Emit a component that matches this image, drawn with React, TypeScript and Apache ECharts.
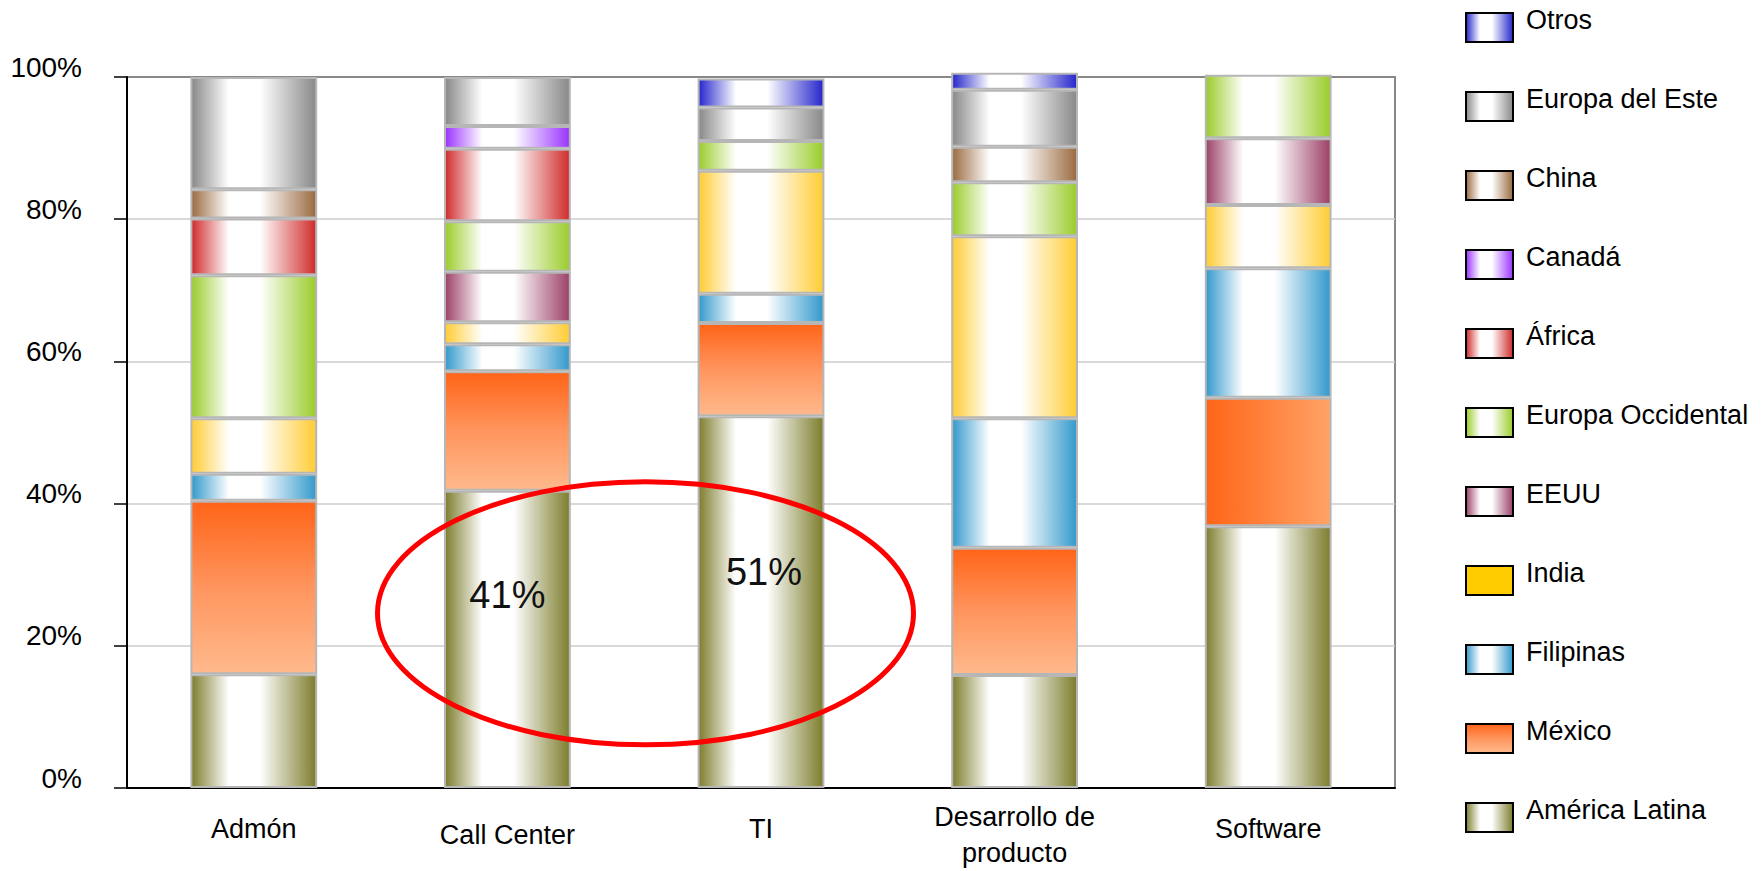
import React, { useEffect, useRef } from 'react';
import * as echarts from 'echarts';

// ---------- DATA ----------
const categories = ['Admón', 'Call Center', 'TI', 'Desarrollo de\nproducto', 'Software'];

const americaLatina = [16.0, 41.8, 52.3, 15.9, 36.8];
const mexico = [24.4, 16.8, 13.1, 17.9, 18.1];
const filipinas = [3.8, 3.8, 4.1, 18.2, 18.2];
const india = [7.8, 3.1, 17.3, 25.6, 8.9];
const eeuu = [null, 7.1, null, null, 9.4];
const europaOccidental = [20.1, 7.1, 4.2, 7.6, 8.9];
const africa = [8.0, 10.2, null, null, null];
const canada = [null, 3.2, null, null, null];
const china = [4.1, null, null, 5.0, null];
const europaEste = [15.8, 6.9, 4.7, 8.0, null];
const otros = [null, null, 4.1, 2.4, null];

const seriesNames = [
  'América Latina', 'México', 'Filipinas', 'India', 'EEUU', 'Europa Occidental',
  'África', 'Canadá', 'China', 'Europa del Este', 'Otros',
];
const seriesValues = [
  americaLatina, mexico, filipinas, india, eeuu, europaOccidental,
  africa, canada, china, europaEste, otros,
];

const yTickValues = [0, 20, 40, 60, 80, 100];

// annotation texts on América Latina bars
const annotationCategories = ['Call Center', 'TI'];
const annotationTexts = ['41%', '51%'];

// ---------- STYLES ----------
const FONT = '"Liberation Sans", Arial, sans-serif';
const edgeColors: Record<string, string> = {
  'América Latina': '#7D7D2D',
  'México': '#FF6418',
  'Filipinas': '#3399CC',
  'India': '#FFCC33',
  'EEUU': '#9B4068',
  'Europa Occidental': '#9ACC2A',
  'África': '#D02A2A',
  'Canadá': '#9933FF',
  'China': '#9A6A40',
  'Europa del Este': '#888888',
  'Otros': '#2525CC',
};

function hGrad(c: string) {
  return new echarts.graphic.LinearGradient(0, 0, 1, 0, [
    { offset: 0, color: c },
    { offset: 0.3, color: '#ffffff' },
    { offset: 0.55, color: '#ffffff' },
    { offset: 1, color: c },
  ]);
}
function mexicoVertical() {
  return new echarts.graphic.LinearGradient(0, 0, 0, 1, [
    { offset: 0, color: '#FF6418' },
    { offset: 0.5, color: '#FF955E' },
    { offset: 1, color: '#FFB98C' },
  ]);
}
function mexicoHorizontal() {
  return new echarts.graphic.LinearGradient(0, 0, 1, 0, [
    { offset: 0, color: '#FF6418' },
    { offset: 1, color: '#FFA366' },
  ]);
}

const annotationOffsets: Record<string, number[]> = {
  'Call Center': [0, -44],
  'TI': [3, -30],
};

const xLabelBase = {
  fontFamily: FONT,
  fontSize: 27,
  color: '#000',
  lineHeight: 36,
  verticalAlign: 'top',
};
const xLabelPadding: Record<string, number[]> = {
  'Call Center': [19, 0, 0, 0],
  'Desarrollo de\nproducto': [1, 0, 0, 0],
};

export default function App() {
  const ref = useRef<HTMLDivElement>(null);

  useEffect(() => {
    if (!ref.current) return;
    const chart = echarts.init(ref.current, undefined, { renderer: 'svg' });

    const series = seriesNames.map((name, si) => {
      const vals = seriesValues[si];
      const baseColor = name === 'México' ? mexicoVertical() : hGrad(edgeColors[name]);
      const data = vals.map((v, ci) => {
        if (v == null) return '-';
        const item: any = { value: v };
        if (name === 'México' && categories[ci] === 'Software') {
          item.itemStyle = { color: mexicoHorizontal() };
        }
        if (name === 'América Latina') {
          const ai = annotationCategories.indexOf(categories[ci]);
          if (ai >= 0) {
            item.label = {
              show: true,
              position: 'inside',
              formatter: annotationTexts[ai],
              offset: annotationOffsets[categories[ci]],
              fontSize: 38,
              fontFamily: FONT,
              color: '#111',
            };
          }
        }
        return item;
      });
      return {
        name,
        type: 'bar',
        stack: 'total',
        barWidth: '50%',
        clip: false,
        itemStyle: { color: baseColor, borderColor: '#B6B6B6', borderWidth: 2 },
        emphasis: { disabled: true },
        data,
      };
    });

    const legendData = [...seriesNames].reverse().map((n) =>
      n === 'India' ? { name: n, itemStyle: { color: '#FFCC00' } } : { name: n }
    );

    chart.setOption({
      animation: false,
      grid: {
        left: 127,
        right: 369,
        top: 77,
        bottom: 83,
        show: true,
        borderColor: '#888888',
        borderWidth: 2,
        backgroundColor: 'transparent',
        outerBoundsMode: 'none',
      },
      legend: {
        orient: 'vertical',
        left: 1465,
        top: 6,
        padding: 0,
        itemWidth: 47,
        itemHeight: 29,
        itemGap: 42,
        icon: 'rect',
        selectedMode: false,
        itemStyle: { borderColor: '#000', borderWidth: 2 },
        formatter: (n: string) => `{t|${n}}`,
        textStyle: {
          fontFamily: FONT,
          fontSize: 27,
          color: '#000',
          rich: {
            t: {
              fontFamily: FONT,
              fontSize: 27,
              color: '#000',
              padding: [0, 0, 16, 8],
            },
          },
        },
        data: legendData,
      },
      xAxis: {
        type: 'category',
        data: categories.map((c) =>
          xLabelPadding[c]
            ? { value: c, textStyle: { ...xLabelBase, padding: xLabelPadding[c] } }
            : c
        ),
        axisLine: { lineStyle: { color: '#000', width: 2 } },
        axisTick: { interval: 1, length: 13, lineStyle: { color: '#000', width: 1.5 } },
        axisLabel: {
          interval: 0,
          margin: 10,
          ...xLabelBase,
          padding: [13, 0, 0, 0],
        },
      },
      yAxis: {
        type: 'value',
        min: yTickValues[0],
        max: yTickValues[yTickValues.length - 1],
        interval: yTickValues[1] - yTickValues[0],
        axisLine: { show: true, lineStyle: { color: '#000', width: 2 } },
        axisTick: { show: true, length: 13, lineStyle: { color: '#000', width: 1.5 } },
        axisLabel: {
          formatter: '{value}%',
          margin: 45,
          fontFamily: FONT,
          fontSize: 28,
          color: '#000',
          verticalAlign: 'bottom',
          lineHeight: 20,
        },
        splitLine: {
          show: true,
          showMaxLine: false,
          showMinLine: false,
          lineStyle: { color: '#CCCCCC', width: 1.5 },
        },
      },
      series,
      graphic: [
        {
          type: 'ellipse',
          z: 100,
          shape: { cx: 645.5, cy: 613.3, rx: 268, ry: 131.5 },
          style: { fill: 'none', stroke: '#FF0000', lineWidth: 5 },
        },
      ],
    });

    return () => chart.dispose();
  }, []);

  return (
    <div
      ref={ref}
      style={{ position: 'fixed', left: 0, top: 0, width: 1764, height: 871, background: '#fff' }}
    />
  );
}
